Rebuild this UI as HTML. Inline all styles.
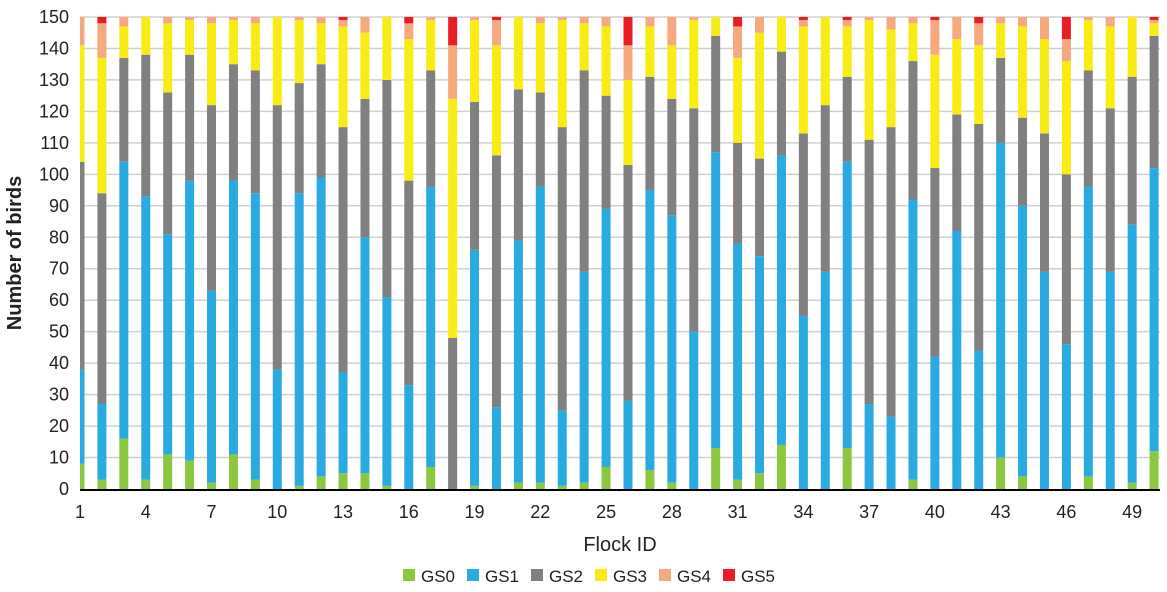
<!DOCTYPE html>
<html><head><meta charset="utf-8"><style>
body{margin:0;background:#fff;width:1167px;height:587px;overflow:hidden;font-family:"Liberation Sans",sans-serif}
</style></head><body>
<svg id="chart" width="1167" height="587" xmlns="http://www.w3.org/2000/svg">
<defs><clipPath id="pc"><rect x="80" y="0" width="1087" height="500"/></clipPath></defs>
<g id="grid"></g><g id="bars" clip-path="url(#pc)"></g><g id="axes"></g><g id="legend"></g>
</svg>
<script>
const flocks=[];for(let i=1;i<=50;i++)flocks.push(i);
const gs0=[8,3,16,3,11,9,2,11,3,0,1,4,5,5,1,0,7,0,1,0,2,2,1,2,7,0,6,2,0,13,3,5,14,0,0,13,0,0,3,0,0,0,10,4,0,0,4,0,2,12];
const gs1=[30,24,88,90,70,89,61,87,91,38,93,95,32,75,60,33,89,0,75,26,77,94,24,67,82,28,89,85,50,94,75,69,92,55,69,91,27,23,89,42,82,44,100,86,69,46,92,69,82,90];
const gs2=[66,67,33,45,45,40,59,37,39,84,35,36,78,44,69,65,37,48,47,80,48,30,90,64,36,75,36,37,71,37,32,31,33,58,53,27,84,92,44,60,37,72,27,28,44,54,37,52,47,42];
const gs3=[37,43,10,12,22,11,26,14,15,28,20,13,32,21,20,45,16,76,26,35,23,22,34,15,22,27,16,17,28,6,27,40,11,34,28,16,38,31,12,36,24,25,11,29,30,36,16,26,19,4];
const gs4=[9,11,3,0,2,1,2,1,2,0,1,2,2,5,0,5,1,17,1,8,0,2,1,2,3,11,3,9,1,0,10,5,0,2,0,2,1,4,2,11,7,7,2,3,7,7,1,3,0,1];
const gs5=[0,2,0,0,0,0,0,0,0,0,0,0,1,0,0,2,0,9,0,1,0,0,0,0,0,9,0,0,0,0,3,0,0,1,0,1,0,0,0,1,0,2,0,0,0,7,0,0,0,1];
const series=[gs0,gs1,gs2,gs3,gs4,gs5];
const seriesNames=["GS0","GS1","GS2","GS3","GS4","GS5"];
const colors=["#8dc63f","#29abe2","#808080","#f7ec13","#f4a97f","#ed1c24"];
const yTicks=[0,10,20,30,40,50,60,70,80,90,100,110,120,130,140,150];
const xTickLabels=[1,4,7,10,13,16,19,22,25,28,31,34,37,40,43,46,49];
const NS="http://www.w3.org/2000/svg";
const y=v=>489-v*(472/150);
const x=f=>80+(f-1)*21.92;
function mk(tag,attrs,parent,txt){const e=document.createElementNS(NS,tag);for(const k in attrs)e.setAttribute(k,attrs[k]);if(txt!==undefined)e.textContent=txt;document.getElementById(parent).appendChild(e);return e;}
yTicks.forEach(t=>{
  if(t>0){const g=mk('line',{x1:80,x2:1160,y1:y(t),y2:y(t),stroke:'#d0d0d0','stroke-width':1.5},'grid');
  
  }
  const l=mk('text',{x:69,y:y(t)+6,'text-anchor':'end','font-size':18,fill:'#222'},'axes',t);
  
  
});
flocks.forEach((f,i)=>{
  let cum=0;
  series.forEach((s,k)=>{
    const v=s[i];if(v<=0)return;
    const r=mk('rect',{x:x(f)-4.5,width:9,y:y(cum+v),height:y(cum)-y(cum+v),fill:colors[k]},'bars');
    
    
    cum+=v;
  });
});
const ax=mk('line',{x1:80,x2:1160,y1:490,y2:490,stroke:'#000','stroke-width':2},'axes');


xTickLabels.forEach(f=>{
  const l=mk('text',{x:x(f),y:518,'text-anchor':'middle','font-size':18,fill:'#222'},'axes',f);
  
  
});
const xt=mk('text',{x:620,y:551,'text-anchor':'middle','font-size':20,fill:'#222'},'axes','Flock ID');


const yt=mk('text',{x:0,y:0,transform:'translate(21,253) rotate(-90)','text-anchor':'middle','font-size':20,'font-weight':'bold',fill:'#222'},'axes','Number of birds');


seriesNames.forEach((n,k)=>{
  const lx=403+k*64;
  const sw=mk('rect',{x:lx,y:569,width:12,height:12,fill:colors[k]},'legend');
  
  
  const t=mk('text',{x:lx+18,y:582,'font-size':17,fill:'#222'},'legend',n);
  
  
});
</script>
</body></html>
